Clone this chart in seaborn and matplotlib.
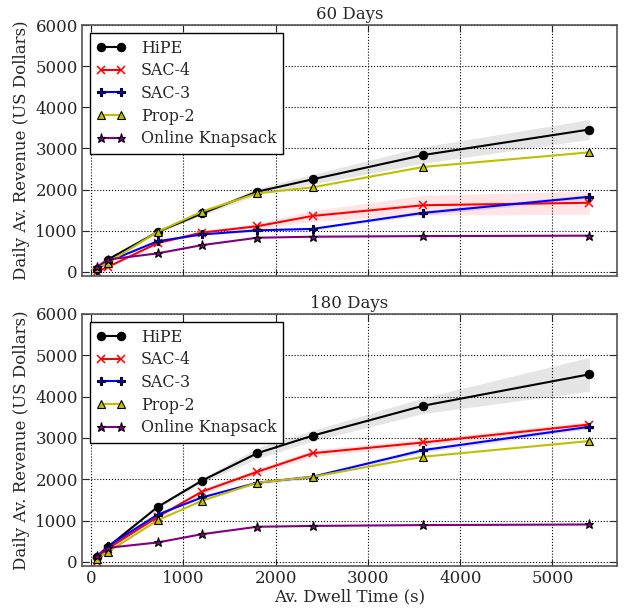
import numpy as np
import pandas as pd
import matplotlib
matplotlib.use("Agg")
import matplotlib.pyplot as plt
import seaborn as sns

# Dwell-time settings (seconds)
dwell = [60, 180, 720, 1200, 1800, 2400, 3600, 5400]

methods = ["HiPE", "SAC-4", "SAC-3", "Prop-2", "Online Knapsack"]

# 60-day horizon: mean daily revenue
hipe_60 = [80, 300, 970, 1420, 1950, 2250, 2840, 3460]
sac4_60 = [0, 120, 700, 955, 1110, 1360, 1620, 1680]
sac3_60 = [40, 250, 745, 910, 1010, 1045, 1435, 1825]
prop2_60 = [100, 220, 975, 1465, 1910, 2055, 2550, 2905]
knap_60 = [120, 300, 450, 650, 830, 855, 870, 880]

# 60-day horizon: spread of the shaded bands
hipe_60_sd = [0, 0, 20, 50, 80, 120, 200, 240]
sac4_60_sd = [0, 0, 20, 40, 70, 130, 240, 280]
sac3_60_sd = [0, 0, 10, 20, 30, 30, 50, 60]
prop2_60_sd = [0, 0, 0, 0, 0, 0, 0, 0]
knap_60_sd = [0, 0, 0, 0, 0, 0, 0, 0]

# 180-day horizon: mean daily revenue
hipe_180 = [120, 360, 1330, 1965, 2630, 3055, 3780, 4540]
sac4_180 = [0, 320, 1090, 1700, 2180, 2630, 2890, 3325]
sac3_180 = [120, 380, 1145, 1560, 1915, 2060, 2705, 3270]
prop2_180 = [80, 240, 1005, 1480, 1915, 2060, 2545, 2925]
knap_180 = [145, 340, 470, 670, 850, 870, 890, 905]

# 180-day horizon: spread of the shaded bands
hipe_180_sd = [0, 0, 40, 60, 130, 130, 190, 410]
sac4_180_sd = [0, 0, 30, 60, 70, 80, 80, 80]
sac3_180_sd = [0, 0, 20, 30, 40, 50, 60, 50]
prop2_180_sd = [0, 0, 0, 0, 0, 0, 0, 0]
knap_180_sd = [0, 0, 0, 0, 0, 0, 0, 0]

panel_titles = ["60 Days", "180 Days"]
x_ticks = [0, 1000, 2000, 3000, 4000, 5000]
y_ticks = [0, 1000, 2000, 3000, 4000, 5000, 6000]

colors = {"HiPE": "k", "SAC-4": "#ff0000", "SAC-3": "#0000ff",
          "Prop-2": "#bfbf00", "Online Knapsack": "#800080"}
markers = {"HiPE": "o", "SAC-4": "x", "SAC-3": "P",
           "Prop-2": "^", "Online Knapsack": "*"}
marker_sizes = {"HiPE": 6, "SAC-4": 6, "SAC-3": 6,
                "Prop-2": 6, "Online Knapsack": 6.5}

panels = [
    (panel_titles[0],
     [hipe_60, sac4_60, sac3_60, prop2_60, knap_60],
     [hipe_60_sd, sac4_60_sd, sac3_60_sd, prop2_60_sd, knap_60_sd]),
    (panel_titles[1],
     [hipe_180, sac4_180, sac3_180, prop2_180, knap_180],
     [hipe_180_sd, sac4_180_sd, sac3_180_sd, prop2_180_sd, knap_180_sd]),
]

sns.set_style("ticks")
plt.rcParams["font.family"] = ["DejaVu Serif"]
plt.rcParams["font.size"] = 12
plt.rcParams["axes.unicode_minus"] = False

fig = plt.figure(figsize=(6.28, 6.10), dpi=100, facecolor="white")
ax_top = fig.add_axes([82 / 628, 1 - 276 / 610, 535 / 628, 251 / 610])
ax_bot = fig.add_axes([82 / 628, 1 - 566 / 610, 535 / 628, 252 / 610])

for ax, (title, series, spreads) in zip([ax_top, ax_bot], panels):
    for name, vals, sd in zip(methods, series, spreads):
        df = pd.DataFrame({"dwell": dwell, "revenue": vals})
        lo = np.array(vals) - np.array(sd)
        hi = np.array(vals) + np.array(sd)
        ax.fill_between(dwell, lo, hi, color=colors[name],
                        alpha=0.1, linewidth=0)
        is_x = markers[name] == "x"
        sns.lineplot(data=df, x="dwell", y="revenue", ax=ax,
                     color=colors[name], marker=markers[name],
                     markersize=marker_sizes[name],
                     markeredgecolor=colors[name] if is_x else "k",
                     markeredgewidth=1.1 if is_x else 0.8,
                     linewidth=1.5, label=name, legend=False)

    ax.set_xlim(-100, 5700)
    ax.set_ylim(-100, 6000)
    ax.set_xticks(x_ticks)
    ax.set_yticks(y_ticks)
    ax.grid(True, color="k", linestyle=":", linewidth=0.8)
    ax.tick_params(direction="in", top=True, right=True, length=5,
                   width=0.8, labelsize=12, pad=3)
    for sp in ax.spines.values():
        sp.set_color("#555555")
        sp.set_linewidth(1.2)
    ax.set_title(title, fontsize=12, pad=4)
    ax.set_ylabel("Daily Av. Revenue (US Dollars)", fontsize=12, labelpad=4)
    ax.set_xlabel("")
    leg = ax.legend(loc="upper left", numpoints=2, fancybox=False,
                    framealpha=1, edgecolor="k", fontsize=11.4,
                    borderaxespad=0.5, handlelength=1.85,
                    handletextpad=0.95, labelspacing=0.36,
                    borderpad=0.42)
    leg.get_frame().set_linewidth(1.0)

ax_top.set_xticklabels([])
ax_bot.set_xlabel("Av. Dwell Time (s)", fontsize=12, labelpad=1)

fig.savefig("out.png", dpi=100, facecolor="white")
